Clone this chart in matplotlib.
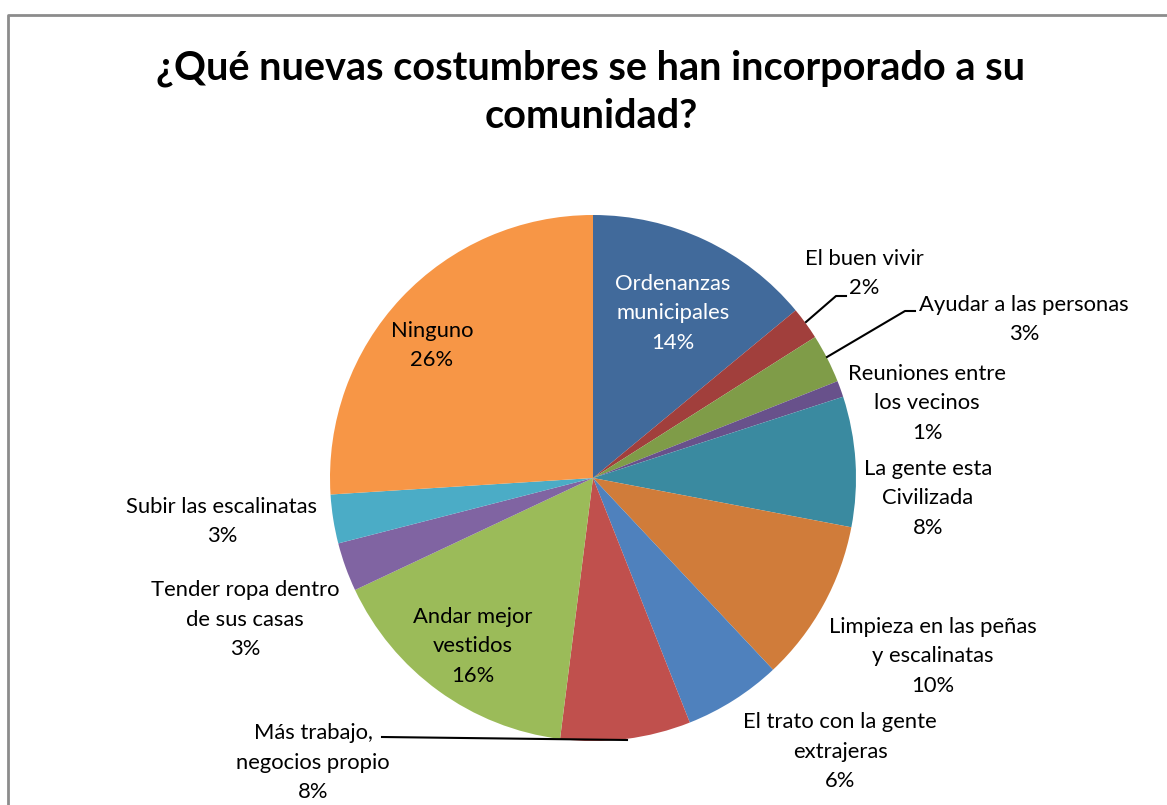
import matplotlib
matplotlib.use("Agg")
import matplotlib.pyplot as plt
from matplotlib.lines import Line2D

title_lines = ["¿Qué nuevas costumbres se han incorporado a su", "comunidad?"]
categories = [
    "Ordenanzas\nmunicipales", "El buen vivir", "Ayudar a las personas",
    "Reuniones entre\nlos vecinos", "La gente esta\nCivilizada",
    "Limpieza en las peñas\ny escalinatas", "El trato con la gente\nextrajeras",
    "Más trabajo,\nnegocios propio", "Andar mejor\nvestidos",
    "Tender ropa dentro\nde sus casas", "Subir las escalinatas", "Ninguno",
]
values = [14, 2, 3, 1, 8, 10, 6, 8, 16, 3, 3, 26]
colors = ["#416A9B", "#A13F3C", "#7F9C48", "#68518B", "#3A8AA0", "#D07C3A",
          "#4F81BD", "#C0504D", "#9BBB59", "#8064A2", "#4BACC6", "#F79646"]

W, H = 1167, 805
fig = plt.figure(figsize=(W / 100, H / 100), dpi=100)
ax = fig.add_axes([0, 0, 1, 1])

def Y(y):
    return H - y

FONT = "Lato"

ax.pie(values, colors=colors, startangle=90, counterclock=False,
       center=(593, Y(478)), radius=263, frame=True,
       wedgeprops=dict(linewidth=0))
ax.set_xlim(0, W)
ax.set_ylim(0, H)
ax.set_aspect("equal")
ax.axis("off")

# frame
ax.add_line(Line2D([8, 8, W], [Y(H), Y(15), Y(15)], color="#8C8C8C", lw=2))

# title
ax.text(591, Y(68), title_lines[0], ha="center", va="center", fontsize=28.5,
        fontweight="bold", family=FONT)
ax.text(591, Y(117), title_lines[1], ha="center", va="center", fontsize=28.5,
        fontweight="bold", family=FONT)

# label positions (center x, first line y) in image pixels
label_pos = [
    (673, 284), (864, 259), (1024, 305), (927, 374), (928, 469), (933, 627),
    (840, 722), (313, 733), (473, 617), (245, 590), (222, 507), (432, 331),
]
text_colors = ["white"] + ["black"] * 11
for cat, v, (x, y), tc in zip(categories, values, label_pos, text_colors):
    lines = cat.split("\n") + [f"{v}%"]
    for i, ln in enumerate(lines):
        ax.text(x, Y(y + i * 29.5), ln, ha="center", va="center",
                fontsize=15.8, family=FONT, color=tc)

# leader lines
leaders = [
    ([806, 836, 846], [322, 296, 296]),
    ([827, 905, 915], [357, 311, 311]),
    ([382, 627], [737, 740]),
]
for xs, ys in leaders:
    ax.add_line(Line2D(xs, [Y(v) for v in ys], color="black", lw=1.5))

fig.savefig("out.png", dpi=100)
